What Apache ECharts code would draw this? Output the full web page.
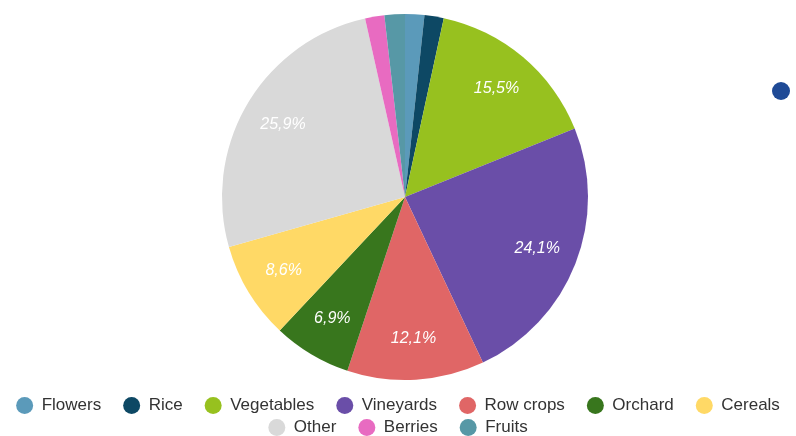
<!DOCTYPE html>
<html>
<head>
<meta charset="utf-8">
<script src="https://cdn.jsdelivr.net/npm/echarts@6/dist/echarts.min.js"></script>
<style>html,body{margin:0;padding:0;background:#fff}#c{width:796px;height:436px}</style>
</head>
<body>
<div id="c"></div>
<script>
var categories = ['Flowers','Rice','Vegetables','Vineyards','Row crops','Orchard','Cereals','Other','Berries','Fruits'];
var values = [1.7, 1.7, 15.5, 24.1, 12.1, 6.9, 8.6, 25.9, 1.7, 1.8];
var colors = ['#5b9aba','#0d4864','#97c11f','#6a4ea8','#e06666','#38761d','#ffd966','#d9d9d9','#e86bc1','#5798a6'];
var legendRow1 = categories.slice(0, 7);
var legendRow2 = categories.slice(7);

var data = categories.map(function (n, i) {
  return { name: n, value: values[i], itemStyle: { color: colors[i] } };
});
var labelData = categories.map(function (n, i) {
  return { name: n, value: values[i], itemStyle: { color: 'rgba(0,0,0,0)' } };
});

var chart = echarts.init(document.getElementById('c'), null, { renderer: 'canvas' });
var legendCommon = {
  left: 'center', orient: 'horizontal', icon: 'circle',
  itemWidth: 24, itemHeight: 17, itemGap: 22,
  textStyle: { fontFamily: 'Liberation Sans, Arial, sans-serif', fontSize: 17, color: '#333' }
};
chart.setOption({
  animation: false,
  color: colors,
  legend: [
    Object.assign({}, legendCommon, { top: 392, data: legendRow1 }),
    Object.assign({}, legendCommon, { top: 414, data: legendRow2 })
  ],
  graphic: [{
    type: 'circle', shape: { cx: 781, cy: 91, r: 9 }, style: { fill: '#1f4a96' }
  }],
  series: [
    {
      type: 'pie', center: [405, 197], radius: [0, 183], startAngle: 90, clockwise: true,
      data: data, label: { show: false }, labelLine: { show: false },
      emphasis: { disabled: true }
    },
    {
      type: 'pie', center: [405, 197], radius: [95, 183], startAngle: 90, clockwise: true,
      silent: true, data: labelData, labelLine: { show: false },
      emphasis: { disabled: true },
      label: {
        show: true, position: 'inside', color: '#fff', fontStyle: 'italic',
        fontFamily: 'Liberation Sans, Arial, sans-serif', fontSize: 16,
        formatter: function (p) {
          if (p.value < 5) return '';
          return p.value.toFixed(1).replace('.', ',') + '%';
        }
      }
    }
  ]
});
</script>
</body>
</html>
